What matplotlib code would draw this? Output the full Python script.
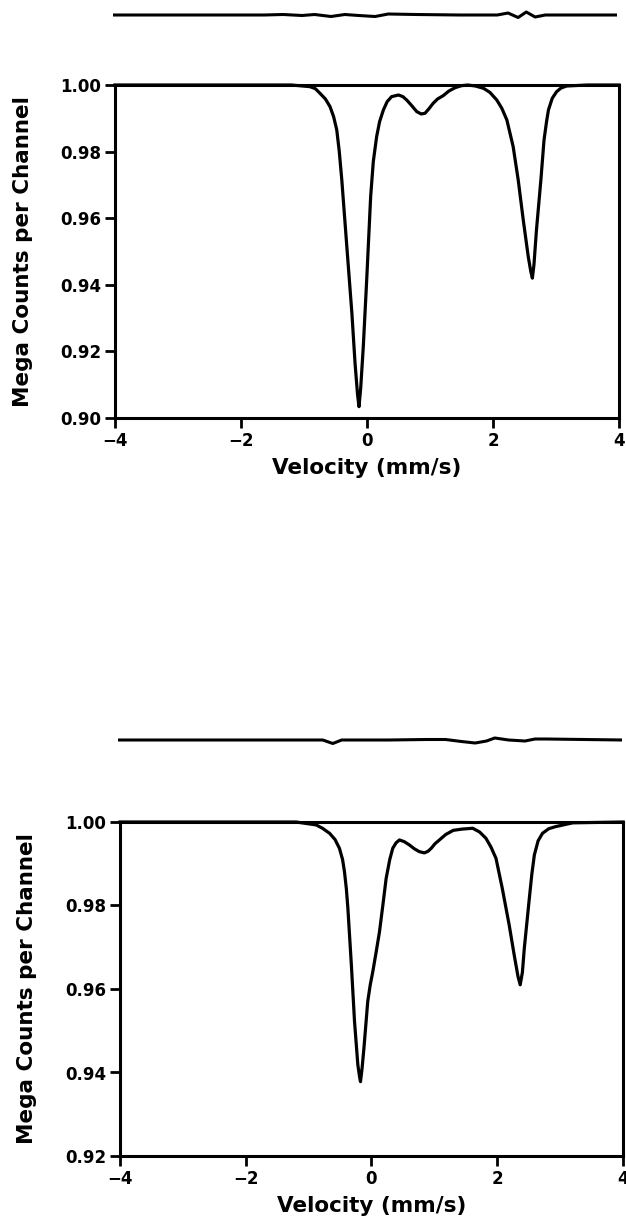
"""
Mossbauer spectra: two panels, fitted envelope with residual trace above each
"""

import matplotlib.pyplot as plt

# ---- top spectrum (velocity mm/s, mega counts per channel) ----
TOP_VEL = [-4.0, -1.2, -0.905, -0.82, -0.746, -0.66, -0.587, -0.53, -0.48, -0.44,
           -0.40, -0.32, -0.24, -0.19, -0.15, -0.127, -0.10, -0.059, -0.005, 0.058,
           0.10, 0.153, 0.20, 0.26, 0.32, 0.39, 0.50, 0.57, 0.63, 0.71,
           0.79, 0.86, 0.92, 0.98, 1.05, 1.12, 1.21, 1.30, 1.40, 1.50,
           1.60, 1.72, 1.85, 1.95, 2.06, 2.14, 2.22, 2.32, 2.40, 2.48,
           2.56, 2.60, 2.625, 2.65, 2.69, 2.76, 2.81, 2.85, 2.88, 2.94,
           3.01, 3.08, 3.17, 3.5, 4.0]
TOP_COUNTS = [1.0, 1.0, 0.9995, 0.9989, 0.9975, 0.9958, 0.9935, 0.9905, 0.9865, 0.980,
              0.9715, 0.9514, 0.9315, 0.9165, 0.907, 0.9034, 0.909, 0.9214, 0.9414, 0.9665,
              0.977, 0.9845, 0.989, 0.9925, 0.995, 0.9965, 0.997, 0.9965, 0.9955, 0.9938,
              0.992, 0.9913, 0.9915, 0.9928, 0.9945, 0.9958, 0.9968, 0.9982, 0.9992, 0.9998,
              1.0, 0.9997, 0.999, 0.9978, 0.9955, 0.993, 0.9895, 0.9815, 0.9715, 0.9595,
              0.9484, 0.944, 0.942, 0.946, 0.9565, 0.9715, 0.9835, 0.989, 0.9925, 0.996,
              0.998, 0.9991, 0.9997, 1.0, 1.0]

# residual of the top fit (arbitrary units)
TOP_RES_VEL = [-4.0, -1.6, -1.3, -1.0, -0.8, -0.54, -0.32, -0.1, 0.16, 0.37,
               0.8, 1.5, 2.1, 2.27, 2.43, 2.56, 2.70, 2.86, 3.2, 4.0]
TOP_RES = [0, 0, 0.5, -0.5, 0.5, -1.5, 0.5, -0.5, -1.5, 1,
           0.5, 0, 0, 2, -2.5, 3, -2, 0, 0, 0]

# ---- bottom spectrum ----
BOT_VEL = [-4.0, -1.2, -0.88, -0.78, -0.667, -0.58, -0.51, -0.46, -0.43, -0.40,
           -0.376, -0.32, -0.27, -0.217, -0.19, -0.175, -0.15, -0.12, -0.06, -0.02,
           0.02, 0.07, 0.127, 0.18, 0.233, 0.29, 0.338, 0.39, 0.444, 0.52,
           0.603, 0.68, 0.76, 0.84, 0.90, 0.95, 1.01, 1.08, 1.18, 1.30,
           1.44, 1.61, 1.72, 1.82, 1.90, 1.98, 2.08, 2.19, 2.27, 2.33,
           2.365, 2.40, 2.43, 2.51, 2.55, 2.59, 2.65, 2.72, 2.82, 2.93,
           3.2, 4.0]
BOT_COUNTS = [1.0, 1.0, 0.9993, 0.9985, 0.9973, 0.9958, 0.9937, 0.991, 0.9881, 0.984,
              0.9794, 0.9657, 0.9522, 0.9418, 0.939, 0.9378, 0.941, 0.9459, 0.957, 0.961,
              0.9641, 0.9685, 0.9737, 0.980, 0.9865, 0.991, 0.9937, 0.995, 0.9957, 0.9953,
              0.9945, 0.9936, 0.9929, 0.9926, 0.993, 0.9937, 0.9948, 0.9957, 0.997, 0.998,
              0.9983, 0.9985, 0.9976, 0.9961, 0.994, 0.9913, 0.9841, 0.9753, 0.9681, 0.963,
              0.961, 0.964, 0.9697, 0.9817, 0.9875, 0.9921, 0.9955, 0.9973, 0.9984, 0.9989,
              0.9998, 1.0]

BOT_RES_VEL = [-4.0, -1.0, -0.75, -0.59, -0.45, 0.3, 0.9, 1.2, 1.45, 1.67,
               1.85, 1.98, 2.2, 2.46, 2.62, 2.8, 4.0]
BOT_RES = [0, 0, 0, -3.5, 0, 0, 0.5, 0.5, -1.5, -3,
           -1, 2, 0, -1, 1, 1, 0]

W, H = 626, 1230
FONT = 'DejaVu Sans'


def px_rect(left, top, right, bottom):
    """figure-pixel box -> add_axes rect"""
    return [left / W, 1 - bottom / H, (right - left) / W, (bottom - top) / H]


def draw_spectrum(fig, rect, vel, counts, ylim, yticks, label_x):
    ax = fig.add_axes(rect)
    ax.plot(vel, counts, color='black', linewidth=2.3, clip_on=False,
            solid_joinstyle='round')
    ax.set_xlim(-4, 4)
    ax.set_ylim(*ylim)
    ax.set_xticks([-4, -2, 0, 2, 4])
    ax.set_xticklabels(['\u22124', '\u22122', '0', '2', '4'])
    ax.set_yticks(yticks)
    ax.set_yticklabels([f'{t:.2f}' for t in yticks])
    for side in ['left', 'right', 'top', 'bottom']:
        ax.spines[side].set_linewidth(2.2)
    ax.tick_params(direction='out', length=7, width=2, labelsize=12, pad=3)
    for lbl in ax.get_xticklabels() + ax.get_yticklabels():
        lbl.set_fontweight('bold')
        lbl.set_family(FONT)
    ax.set_xlabel('Velocity (mm/s)', fontsize=15.5, fontweight='bold', family=FONT,
                  labelpad=6)
    ax.set_ylabel('Mega Counts per Channel', fontsize=15.5, fontweight='bold',
                  family=FONT)
    ax.yaxis.set_label_coords(label_x, 0.5)
    return ax


def draw_residual(fig, rect, vel, res):
    ax = fig.add_axes(rect)
    ax.plot(vel, res, color='black', linewidth=2.2, solid_joinstyle='round')
    ax.set_xlim(-4, 4)
    ax.set_ylim(-10, 10)
    ax.axis('off')
    return ax


def main():
    fig = plt.figure(figsize=(W / 100, H / 100), dpi=100)

    draw_residual(fig, px_rect(113, 5, 617, 25), TOP_RES_VEL, TOP_RES)
    draw_spectrum(fig, px_rect(115, 85, 619, 418), TOP_VEL, TOP_COUNTS,
                  (0.90, 1.00), [0.90, 0.92, 0.94, 0.96, 0.98, 1.00], -0.163)

    draw_residual(fig, px_rect(118, 730, 622, 750), BOT_RES_VEL, BOT_RES)
    draw_spectrum(fig, px_rect(120, 822, 623, 1156), BOT_VEL, BOT_COUNTS,
                  (0.92, 1.00), [0.92, 0.94, 0.96, 0.98, 1.00], -0.165)

    fig.savefig('out.png', dpi=100)


if __name__ == '__main__':
    main()
